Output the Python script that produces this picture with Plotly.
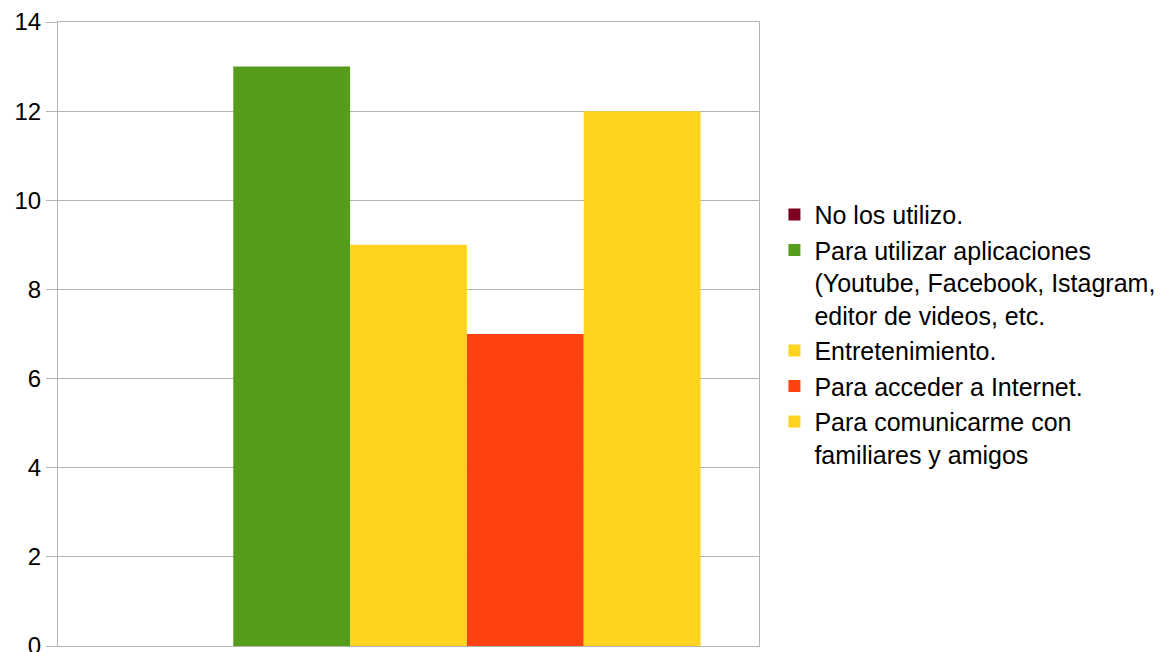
import plotly.graph_objects as go

# Survey responses: uses of the devices
series_names = [
    "No los utilizo.",
    "Para utilizar aplicaciones<br>(Youtube, Facebook, Istagram,<br>editor de videos, etc.",
    "Entretenimiento.",
    "Para acceder a Internet.",
    "Para comunicarme con<br>familiares y amigos",
]
series_values = [0, 13, 9, 7, 12]
series_colors = ["#7e0021", "#579d1c", "#ffd320", "#ff420e", "#ffd320"]
category = [""]
y_ticks = [0, 2, 4, 6, 8, 10, 12, 14]

fig = go.Figure()
for name, val, col in zip(series_names, series_values, series_colors):
    fig.add_trace(go.Bar(
        x=category, y=[val], name=name,
        marker=dict(color=col, line=dict(width=0)),
    ))

fig.update_layout(
    width=1173, height=652,
    margin=dict(l=58, r=414, t=22, b=6, autoexpand=False),
    paper_bgcolor="white", plot_bgcolor="white",
    barmode="group", bargap=0.1667, bargroupgap=0,
    font=dict(family="Liberation Sans", size=24, color="black"),
    showlegend=True,
    legend=dict(
        x=1.022, xanchor="left", y=0.728, yanchor="top",
        valign="top",
        font=dict(family="Liberation Sans", size=25, color="black"),
        bgcolor="rgba(0,0,0,0)", borderwidth=0,
        traceorder="normal",
    ),
    xaxis=dict(
        showticklabels=False, ticks="", automargin=False,
        showgrid=False, showline=True, linecolor="#b3b3b3", linewidth=1,
        mirror=True, zeroline=False,
    ),
    yaxis=dict(
        range=[0, 14], tickvals=y_ticks, automargin=False,
        showgrid=True, gridcolor="#b3b3b3", gridwidth=1,
        showline=True, linecolor="#b3b3b3", linewidth=1, mirror=True,
        ticks="outside", ticklen=11, tickcolor="#b3b3b3",
        ticklabeloverflow="allow",
        zeroline=False,
        tickfont=dict(family="Liberation Sans", size=24, color="black"),
    ),
)

fig.write_html("out.html")
